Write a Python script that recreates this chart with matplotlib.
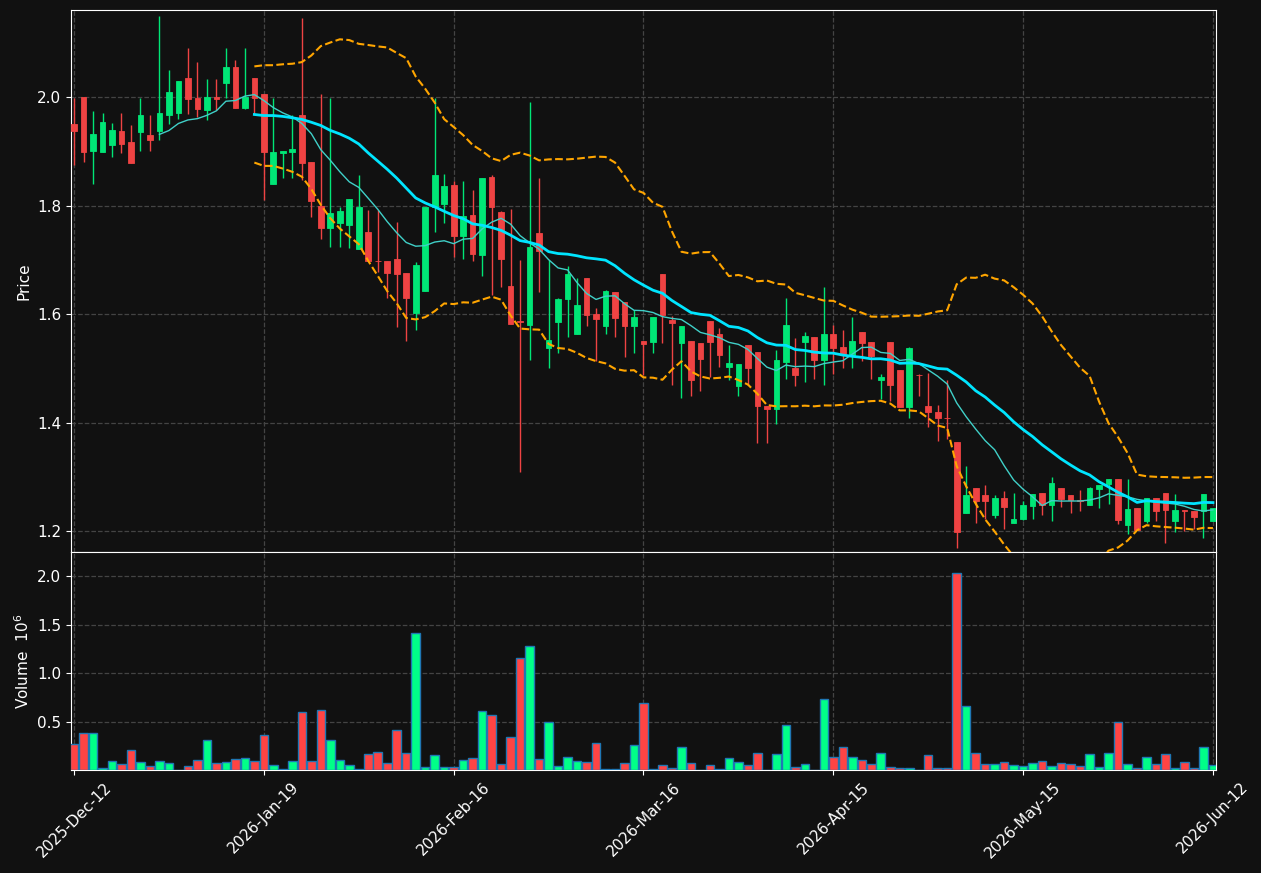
import matplotlib
matplotlib.use("Agg")
import matplotlib.pyplot as plt
import numpy as np
import pandas as pd

# OHLC, one row per trading day
opens = [1.950, 2.000, 1.901, 1.899, 1.912, 1.937, 1.917, 1.936, 1.930, 1.938,
         1.967, 1.971, 2.035, 1.998, 1.977, 2.000, 2.025, 2.055, 1.980, 2.035,
         2.006, 1.840, 1.897, 1.899, 1.967, 1.880, 1.799, 1.759, 1.768, 1.765,
         1.720, 1.751, 1.698, 1.698, 1.701, 1.676, 1.601, 1.642, 1.797, 1.802,
         1.838, 1.744, 1.782, 1.709, 1.853, 1.788, 1.652, 1.588, 1.580, 1.749,
         1.538, 1.586, 1.628, 1.564, 1.666, 1.600, 1.578, 1.641, 1.622, 1.578,
         1.550, 1.549, 1.674, 1.589, 1.547, 1.550, 1.547, 1.587, 1.563, 1.503,
         1.468, 1.543, 1.530, 1.430, 1.424, 1.512, 1.501, 1.549, 1.557, 1.516,
         1.564, 1.540, 1.525, 1.567, 1.548, 1.478, 1.549, 1.497, 1.428, 1.488,
         1.431, 1.420, 1.409, 1.365, 1.234, 1.279, 1.267, 1.230, 1.260, 1.214,
         1.222, 1.246, 1.270, 1.248, 1.279, 1.266, 1.257, 1.248, 1.277, 1.287,
         1.296, 1.211, 1.242, 1.219, 1.261, 1.270, 1.219, 1.239, 1.237, 1.237,
         1.219]
highs = [1.998, 2.000, 1.975, 1.970, 1.953, 1.970, 1.948, 1.998, 1.966, 2.149,
         2.049, 2.029, 2.090, 2.064, 2.034, 2.034, 2.090, 2.069, 2.090, 2.035,
         2.006, 1.998, 1.900, 1.966, 2.146, 1.880, 2.005, 1.999, 1.798, 1.812,
         1.856, 1.791, 1.792, 1.698, 1.769, 1.676, 1.695, 1.797, 1.998, 1.859,
         1.846, 1.845, 1.829, 1.851, 1.856, 1.790, 1.793, 1.699, 1.990, 1.850,
         1.700, 1.629, 1.689, 1.667, 1.666, 1.612, 1.645, 1.641, 1.622, 1.607,
         1.550, 1.594, 1.674, 1.597, 1.578, 1.550, 1.547, 1.587, 1.574, 1.542,
         1.508, 1.543, 1.530, 1.430, 1.534, 1.629, 1.555, 1.566, 1.557, 1.649,
         1.580, 1.571, 1.594, 1.567, 1.548, 1.490, 1.549, 1.497, 1.539, 1.490,
         1.491, 1.432, 1.479, 1.365, 1.320, 1.279, 1.284, 1.267, 1.273, 1.270,
         1.255, 1.268, 1.270, 1.299, 1.279, 1.266, 1.275, 1.282, 1.285, 1.296,
         1.296, 1.296, 1.242, 1.261, 1.261, 1.270, 1.268, 1.239, 1.237, 1.268,
         1.242]
lows = [1.875, 1.881, 1.840, 1.899, 1.889, 1.897, 1.878, 1.900, 1.900, 1.920,
        1.950, 1.959, 1.969, 1.963, 1.957, 1.977, 1.998, 1.980, 1.978, 1.969,
        1.811, 1.840, 1.850, 1.850, 1.847, 1.779, 1.738, 1.724, 1.723, 1.721,
        1.720, 1.698, 1.677, 1.629, 1.577, 1.550, 1.570, 1.642, 1.751, 1.767,
        1.706, 1.701, 1.698, 1.670, 1.635, 1.650, 1.582, 1.309, 1.515, 1.640,
        1.500, 1.529, 1.558, 1.564, 1.578, 1.514, 1.564, 1.558, 1.521, 1.529,
        1.488, 1.529, 1.546, 1.469, 1.445, 1.448, 1.459, 1.484, 1.502, 1.478,
        1.449, 1.469, 1.363, 1.363, 1.398, 1.480, 1.468, 1.475, 1.480, 1.469,
        1.489, 1.500, 1.500, 1.513, 1.480, 1.444, 1.440, 1.429, 1.408, 1.448,
        1.392, 1.366, 1.370, 1.169, 1.233, 1.215, 1.222, 1.224, 1.203, 1.214,
        1.220, 1.223, 1.229, 1.219, 1.245, 1.234, 1.237, 1.248, 1.242, 1.250,
        1.212, 1.194, 1.202, 1.214, 1.219, 1.178, 1.199, 1.200, 1.204, 1.188,
        1.219]
closes = [1.938, 1.899, 1.932, 1.954, 1.939, 1.914, 1.878, 1.967, 1.920, 1.971,
          2.009, 2.029, 1.997, 1.978, 2.000, 1.997, 2.055, 1.980, 2.001, 1.999,
          1.899, 1.899, 1.900, 1.904, 1.879, 1.809, 1.759, 1.786, 1.790, 1.812,
          1.797, 1.698, 1.697, 1.676, 1.674, 1.630, 1.690, 1.797, 1.856, 1.836,
          1.743, 1.781, 1.711, 1.851, 1.798, 1.702, 1.582, 1.586, 1.723, 1.717,
          1.552, 1.628, 1.674, 1.617, 1.599, 1.591, 1.642, 1.593, 1.578, 1.595,
          1.545, 1.594, 1.598, 1.584, 1.578, 1.479, 1.517, 1.549, 1.525, 1.509,
          1.508, 1.501, 1.431, 1.424, 1.515, 1.580, 1.488, 1.559, 1.516, 1.564,
          1.537, 1.525, 1.551, 1.547, 1.522, 1.483, 1.470, 1.429, 1.537, 1.487,
          1.419, 1.408, 1.408, 1.199, 1.267, 1.256, 1.256, 1.261, 1.244, 1.223,
          1.248, 1.268, 1.248, 1.289, 1.259, 1.257, 1.256, 1.279, 1.285, 1.296,
          1.220, 1.241, 1.202, 1.261, 1.236, 1.239, 1.239, 1.237, 1.226, 1.268,
          1.242]
# volume in millions
volumes = [0.270, 0.383, 0.383, 0.020, 0.093, 0.062, 0.207, 0.083, 0.041, 0.093,
           0.072, 0.005, 0.041, 0.100, 0.310, 0.072, 0.083, 0.114, 0.124, 0.093,
           0.362, 0.052, 0.010, 0.093, 0.600, 0.093, 0.621, 0.310, 0.100, 0.052,
           0.010, 0.166, 0.186, 0.072, 0.414, 0.176, 1.418, 0.031, 0.155, 0.031,
           0.031, 0.100, 0.124, 0.610, 0.570, 0.062, 0.342, 1.159, 1.284, 0.114,
           0.497, 0.041, 0.135, 0.093, 0.083, 0.280, 0.010, 0.010, 0.072, 0.259,
           0.694, 0.010, 0.052, 0.021, 0.238, 0.072, 0.003, 0.052, 0.010, 0.124,
           0.083, 0.052, 0.176, 0.003, 0.166, 0.466, 0.031, 0.062, 0.003, 0.735,
           0.135, 0.238, 0.135, 0.100, 0.062, 0.176, 0.031, 0.017, 0.021, 0.004,
           0.155, 0.017, 0.017, 2.029, 0.662, 0.176, 0.062, 0.062, 0.083, 0.052,
           0.041, 0.072, 0.093, 0.041, 0.072, 0.062, 0.041, 0.166, 0.031, 0.176,
           0.490, 0.062, 0.021, 0.135, 0.062, 0.166, 0.021, 0.083, 0.021, 0.238,
           0.052]
tick_pos = [0, 20, 40, 60, 80, 100, 120]
tick_labels = ['2025-Dec-12', '2026-Jan-19', '2026-Feb-16', '2026-Mar-16',
               '2026-Apr-15', '2026-May-15', '2026-Jun-12']

df = pd.DataFrame({'open': opens, 'high': highs, 'low': lows,
                   'close': closes, 'volume': volumes})
x = np.arange(len(df))
up = df['close'] >= df['open']

ma10 = df['close'].rolling(10).mean()
ma20 = df['close'].rolling(20).mean()
sd20 = df['close'].rolling(20).std(ddof=0)

bg = '#111111'
c_up, c_dn = '#00e676', '#ef4343'
v_up, v_dn = '#00ff88', '#ff4444'

fig = plt.figure(figsize=(12.61, 8.73), dpi=100, facecolor=bg)
ax = fig.add_axes([0.0563, 0.3677, 0.908, 0.6208])
axv = fig.add_axes([0.0563, 0.1180, 0.908, 0.2497], sharex=ax)

for a in (ax, axv):
    a.set_facecolor(bg)
    for s in a.spines.values():
        s.set_color('white')
    a.tick_params(colors='white', labelsize=11)
    a.grid(True, color='#444444', linestyle='--', linewidth=0.9)
    a.set_axisbelow(True)

# candles
cols = np.where(up, c_up, c_dn)
ax.vlines(x, df['low'], df['high'], colors=cols, linewidth=1, zorder=2)
body_lo = np.minimum(df['open'], df['close'])
body_h = (df['close'] - df['open']).abs()
ax.bar(x, body_h, bottom=body_lo, width=0.6, color=cols, edgecolor=cols,
       linewidth=0.6, zorder=3)

# overlays
ax.plot(x, ma10, color='#40d0c8', linewidth=1, zorder=4)
ax.plot(x, ma20, color='#00e5ff', linewidth=2, zorder=4)
ax.plot(x, ma20 + 2 * sd20, color='orange', linestyle='--', linewidth=1.5, zorder=4)
ax.plot(x, ma20 - 2 * sd20, color='orange', linestyle='--', linewidth=1.5, zorder=4)

ax.set_ylim(1.1613, 2.1604)
ax.set_yticks([1.2, 1.4, 1.6, 1.8, 2.0])
ax.set_ylabel('Price', color='white', fontsize=11)
ax.tick_params(axis='x', labelbottom=False, length=0)

# volume
vcols = np.where(up, v_up, v_dn)
axv.bar(x, df['volume'], width=0.9, color=vcols, edgecolor='#1f77b4',
        linewidth=1, zorder=3)
axv.set_ylim(0, 2.249)
axv.set_yticks([0.5, 1.0, 1.5, 2.0])
axv.set_ylabel('Volume  $10^{6}$', color='white', fontsize=11)

axv.set_xlim(-0.32, 120.32)
axv.set_xticks(tick_pos)
axv.set_xticklabels(tick_labels, rotation=45, ha='center')

fig.savefig('out.png', dpi=100, facecolor=bg)
